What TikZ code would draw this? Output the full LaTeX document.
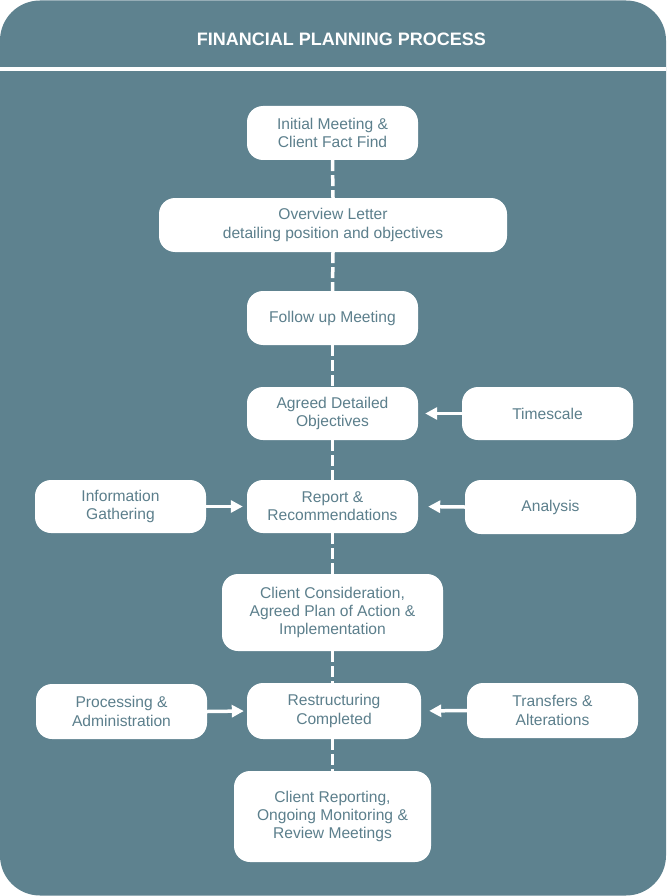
\documentclass[tikz,border=0pt]{standalone}
\usepackage{fontspec}
\setmainfont{Liberation Sans}
\usetikzlibrary{arrows.meta}
\definecolor{bg}{RGB}{94,130,143}
\definecolor{txt}{RGB}{92,127,140}
\begin{document}
\begin{tikzpicture}[x=1pt,y=-1pt,
  box/.style={fill=white, rounded corners=16pt, align=center, text=txt,
    font=\fontsize{15.6}{18.3}\selectfont, inner sep=0pt},
  dashline/.style={draw=white, line width=3.5pt, dash pattern=on 11pt off 4pt},
  arr/.style={draw=white, line width=3.5pt, -{Triangle[length=12pt,width=12pt]}}]
\useasboundingbox (0,0) rectangle (666,896);
\fill[white] (0,0) rectangle (666,896);
\fill[bg, rounded corners=40pt] (0,0.5) rectangle (666,895.5);
\draw[white, line width=4pt] (0,69) -- (666,69);
\node[font=\fontsize{18}{20}\selectfont\bfseries, text=white] (title) at (341.5,39) {FINANCIAL PLANNING PROCESS};

\node[box, minimum width=171pt, minimum height=54pt] (n1) at (332.5,133) {Initial Meeting \&\\Client Fact Find};
\node[box, minimum width=348pt, minimum height=54pt] (n2) at (333,225) {Overview Letter\\detailing position and objectives};
\node[box, minimum width=171pt, minimum height=54pt] (n3) at (332.5,318) {Follow up Meeting};
\node[box, minimum width=171pt, minimum height=53pt] (n4) at (332.5,413.5) {Agreed Detailed\\Objectives};
\node[box, minimum width=171pt, minimum height=53pt] (ts) at (547.5,413.5) {Timescale};
\node[box, minimum width=171pt, minimum height=53pt] (ig) at (120.5,506.5) {Information\\Gathering};
\node[box, minimum width=171pt, minimum height=53pt] (n5) at (332.5,506.5) {Report \&\\Recommendations};
\node[box, minimum width=171pt, minimum height=54pt] (an) at (550.5,507) {Analysis};
\node[box, minimum width=221pt, minimum height=77pt] (n6) at (332.5,612.5) {Client Consideration,\\Agreed Plan of Action \&\\Implementation};
\node[box, minimum width=171pt, minimum height=55pt] (pa) at (121.5,711.5) {Processing \&\\Administration};
\node[box, minimum width=174pt, minimum height=56pt] (n7) at (334,711) {Restructuring\\Completed};
\node[box, minimum width=171pt, minimum height=55pt] (ta) at (552.5,710.5) {Transfers \&\\Alterations};
\node[box, minimum width=197pt, minimum height=91pt] (n8) at (332.5,816.5) {Client Reporting,\\Ongoing Monitoring \&\\Review Meetings};

\draw[dashline] (n1.south) -- (n2.north);
\draw[dashline] (n2.south) -- (n3.north);
\draw[dashline] (n3.south) -- (n4.north);
\draw[dashline] (n4.south) -- (n5.north);
\draw[dashline] (n5.south) -- (n6.north);
\draw[dashline] (n6.south) -- (n6.south |- n7.north);
\draw[dashline] (n6.south |- n7.south) -- (n8.north);

\draw[arr, shorten >=7pt] (ts.west) -- (n4.east);
\draw[arr, shorten >=4pt] (ig.east) -- (n5.west);
\draw[arr, shorten >=10pt] (an.west) -- (n5.east);
\draw[arr, shorten >=3pt] (pa.east) -- (n7.west);
\draw[arr, shorten >=8pt] (ta.west) -- (n7.east);
\end{tikzpicture}
\end{document}
